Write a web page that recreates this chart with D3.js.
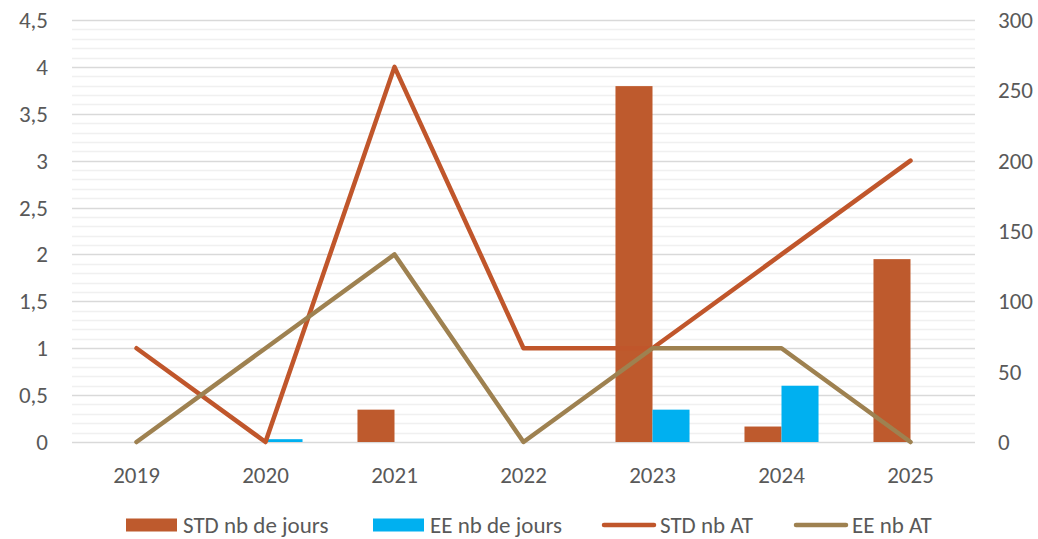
<!DOCTYPE html>
<html>
<head>
<meta charset="utf-8">
<script src="https://cdn.jsdelivr.net/npm/d3@7"></script>
<style>
  body { margin: 0; background: #fff; }
  text { font-family: Carlito, Lato, "Open Sans", sans-serif; fill: #595959; }
</style>
</head>
<body>
<div id="chart"></div>
<script>
var years = ["2019", "2020", "2021", "2022", "2023", "2024", "2025"];
var stdJours = [0, 0, 23, 0, 253, 11, 130];
var eeJours = [0, 2, 0, 0, 23, 40, 0];
var stdAT = [1, 0, 4, 1, 1, 2, 3];
var eeAT = [0, 1, 2, 0, 1, 1, 0];
var leftTicks = [0, 0.5, 1, 1.5, 2, 2.5, 3, 3.5, 4, 4.5];
var rightTicks = [0, 50, 100, 150, 200, 250, 300];

var colors = { stdBar: "#BE5A2D", eeBar: "#00B0F0", stdLine: "#C0562B", eeLine: "#9E8150" };
var fs = "23px";

var width = 1038, height = 539;
var margin = { top: 20, right: 63, bottom: 97, left: 72 };

var svg = d3.select("#chart").append("svg")
  .attr("width", width)
  .attr("height", height);

var g = svg.append("g")
  .attr("transform", "translate(" + margin.left + "," + margin.top + ")");

var w = width - margin.left - margin.right,
    h = height - margin.top - margin.bottom;

var x = d3.scaleBand().domain(years).range([0, w]).padding(0);
var yL = d3.scaleLinear().domain([0, 4.5]).range([h, 0]);
var yR = d3.scaleLinear().domain([0, 300]).range([h, 0]);

// minor gridlines every 0.1, major every 0.5
var minor = d3.range(0, 45).map(function(i) { return i / 10; })
  .filter(function(v) { return Math.round(v * 10) % 5 !== 0; });

g.selectAll(".minor").data(minor).enter().append("line")
  .attr("x1", 0).attr("x2", w)
  .attr("y1", function(d) { return Math.round(yL(d)) + 0.5; })
  .attr("y2", function(d) { return Math.round(yL(d)) + 0.5; })
  .style("stroke", "#f0f0f0").style("stroke-width", 1.3);

g.selectAll(".major").data(leftTicks).enter().append("line")
  .attr("x1", 0).attr("x2", w)
  .attr("y1", function(d) { return Math.round(yL(d)) + 0.5; })
  .attr("y2", function(d) { return Math.round(yL(d)) + 0.5; })
  .style("stroke", "#d9d9d9").style("stroke-width", 1.3);

// left axis labels
g.selectAll(".ltick").data(leftTicks).enter().append("text")
  .attr("x", -24).attr("y", function(d) { return yL(d); })
  .attr("dy", "0.35em")
  .style("text-anchor", "end")
  .style("font-size", fs)
  .text(function(d) { return String(d).replace(".", ","); });

// right axis labels
g.selectAll(".rtick").data(rightTicks).enter().append("text")
  .attr("x", w + 23).attr("y", function(d) { return yR(d); })
  .attr("dy", "0.35em")
  .style("text-anchor", "start")
  .style("font-size", fs)
  .text(function(d) { return d; });

// x labels
g.selectAll(".xtick").data(years).enter().append("text")
  .attr("x", function(d) { return x(d) + x.bandwidth() / 2; })
  .attr("y", h + 33)
  .attr("dy", "0.35em")
  .style("text-anchor", "middle")
  .style("font-size", fs)
  .text(function(d) { return d; });

// bars
var barW = x.bandwidth() * 0.287;
var bars = [
  { key: "std", values: stdJours, color: colors.stdBar, off: -barW },
  { key: "ee", values: eeJours, color: colors.eeBar, off: 0 }
];
bars.forEach(function(s) {
  g.selectAll(".bar-" + s.key).data(years).enter().append("rect")
    .attr("x", function(d) { return x(d) + x.bandwidth() / 2 + s.off; })
    .attr("y", function(d, i) { return yR(s.values[i]); })
    .attr("width", barW)
    .attr("height", function(d, i) { return h - yR(s.values[i]); })
    .style("fill", s.color);
});

// lines
var line = d3.line()
  .x(function(d) { return x(d.year) + x.bandwidth() / 2; })
  .y(function(d) { return yL(d.v); });

[{ values: stdAT, color: colors.stdLine }, { values: eeAT, color: colors.eeLine }].forEach(function(s) {
  g.append("path")
    .datum(years.map(function(yr, i) { return { year: yr, v: s.values[i] }; }))
    .attr("d", line)
    .style("fill", "none")
    .style("stroke", s.color)
    .style("stroke-width", 4.5)
    .style("stroke-linecap", "round")
    .style("stroke-linejoin", "round");
});

// legend
var legend = [
  { label: "STD nb de jours", color: colors.stdBar, type: "rect", x: 126 },
  { label: "EE nb de jours", color: colors.eeBar, type: "rect", x: 373 },
  { label: "STD nb AT", color: colors.stdLine, type: "line", x: 602 },
  { label: "EE nb AT", color: colors.eeLine, type: "line", x: 794 }
];
var ly = 525;
var lg = svg.selectAll(".legend").data(legend).enter().append("g")
  .attr("transform", function(d) { return "translate(" + d.x + "," + ly + ")"; });
lg.filter(function(d) { return d.type === "rect"; }).append("rect")
  .attr("x", 0).attr("y", -6.5).attr("width", 51).attr("height", 13)
  .style("fill", function(d) { return d.color; });
lg.filter(function(d) { return d.type === "line"; }).append("line")
  .attr("x1", 2).attr("x2", 52).attr("y1", 0).attr("y2", 0)
  .style("stroke", function(d) { return d.color; })
  .style("stroke-width", 4.5).style("stroke-linecap", "round");
lg.append("text")
  .attr("x", function(d) { return d.type === "rect" ? 57 : 58; })
  .attr("y", 0).attr("dy", "0.35em")
  .style("font-size", fs)
  .text(function(d) { return d.label; });
</script>
</body>
</html>
